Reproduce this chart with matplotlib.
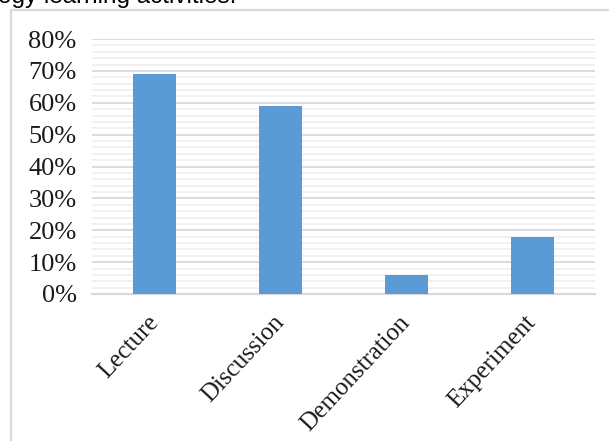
import matplotlib
matplotlib.use("Agg")
import matplotlib.pyplot as plt
from matplotlib.patches import Rectangle
from matplotlib.ticker import MultipleLocator, PercentFormatter

categories = ["Lecture", "Discussion", "Demonstration", "Experiment"]
shares = [69, 59, 6, 18]          # percent of respondents
caption_tail = "ogy learning activities."

BAR = "#5b9bd5"
GRID_MAJOR = "#d9d9d9"
GRID_MINOR = "#f0f0f0"
FRAME = "#d9d9d9"
SERIF = ["Liberation Serif", "DejaVu Serif"]

W, H = 609, 441
fig = plt.figure(figsize=(W / 100, H / 100), dpi=100)
fig.patch.set_facecolor("white")

# caption cut off by the screenshot, and the chart frame
fig.text(-2 / W, 1 - 3.5 / H, caption_tail, fontsize=17.5, family="Liberation Sans",
         color="black", ha="left", va="baseline")
fig.patches.append(Rectangle((11 / W, -0.1), 1.2, 1 - 10 / H + 0.1,
                             transform=fig.transFigure, fill=False,
                             edgecolor=FRAME, lw=1.6))

ax = fig.add_axes([92 / W, 1 - 294 / H, (595 - 92) / W, (294 - 39) / H])
ax.bar(range(len(categories)), shares, width=0.34, color=BAR, zorder=3)

ax.set_xlim(-0.5, len(categories) - 0.5)
ax.set_ylim(0, 80)
ax.yaxis.set_major_locator(MultipleLocator(10))
ax.yaxis.set_minor_locator(MultipleLocator(2))
ax.yaxis.set_major_formatter(PercentFormatter(decimals=0))
ax.grid(axis="y", which="major", color=GRID_MAJOR, lw=1.3, zorder=0)
ax.grid(axis="y", which="minor", color=GRID_MINOR, lw=1.3, zorder=0)

for s in ("top", "right", "left"):
    ax.spines[s].set_visible(False)
ax.spines["bottom"].set_color(GRID_MAJOR)
ax.spines["bottom"].set_linewidth(1.6)

ax.tick_params(axis="y", which="both", length=0, pad=11)
ax.tick_params(axis="x", length=0, pad=18)
for lab in ax.get_yticklabels():
    lab.set_family(SERIF)
    lab.set_fontsize(19)
    lab.set_color("#1a1a1a")

ax.set_xticks(range(len(categories)))
ax.set_xticklabels(categories, rotation=47, ha="right", va="center",
                   rotation_mode="anchor", family=SERIF, fontsize=18, color="#1a1a1a")

fig.savefig("out.png", dpi=100, facecolor="white")
